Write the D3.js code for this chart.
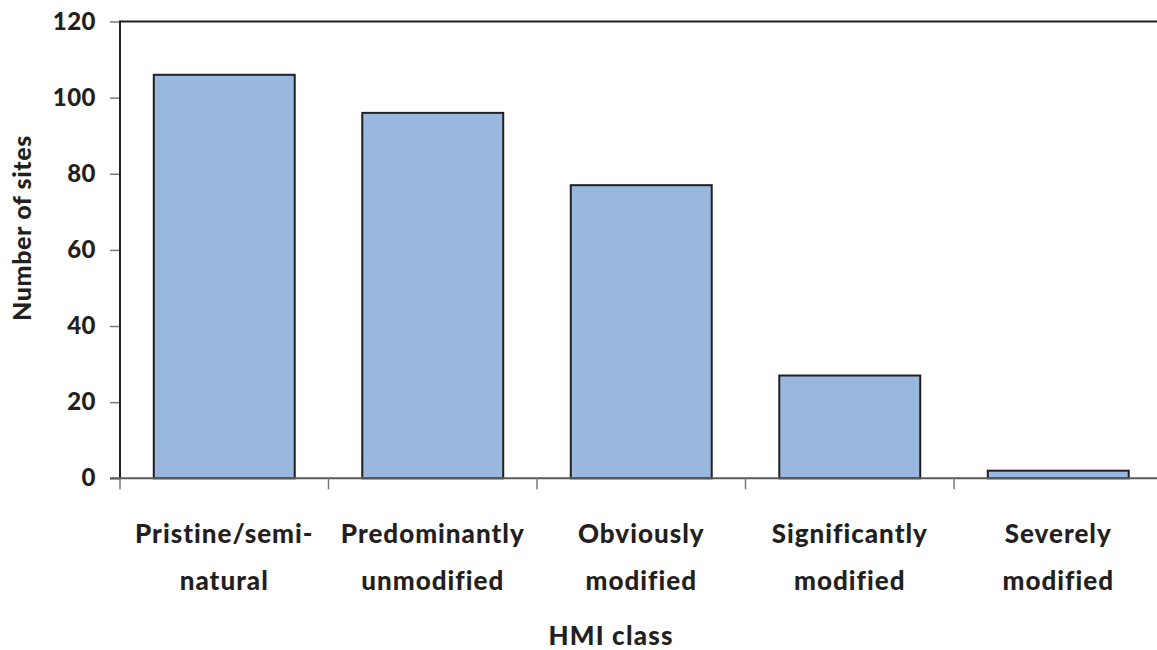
<!DOCTYPE html>
<html>
<head>
<meta charset="utf-8">
<script src="https://cdn.jsdelivr.net/npm/d3@7/dist/d3.min.js"></script>
<style>
  html, body { margin: 0; padding: 0; background: #fff; }
  svg { display: block; }
  text { font-family: Lato, "Open Sans", sans-serif; font-weight: 900; fill: #231f20; }
</style>
</head>
<body>
<svg id="chart" width="1157" height="650"></svg>
<script>
// HMI class categories (two-line labels) and site counts
const categories = ["Pristine/semi-natural", "Predominantly unmodified", "Obviously modified", "Significantly modified", "Severely modified"];
const labelLines = [
  ["Pristine/semi-", "natural"],
  ["Predominantly", "unmodified"],
  ["Obviously", "modified"],
  ["Significantly", "modified"],
  ["Severely", "modified"]
];
const siteCounts = [106, 96, 77, 27, 2];
const yTicks = [0, 20, 40, 60, 80, 100, 120];

const svg = d3.select("#chart");
const plotLeft = 120, plotRight = 1162.5, plotTop = 21.5, plotBottom = 478.3;

const x = d3.scaleBand().domain(categories).range([plotLeft, plotRight]).paddingInner(0.324).paddingOuter(0.162);
const y = d3.scaleLinear().domain([0, 120]).range([plotBottom, plotTop]);

// top frame line
svg.append("line")
  .attr("x1", plotLeft).attr("x2", plotRight).attr("y1", plotTop).attr("y2", plotTop)
  .attr("stroke", "#231f20").attr("stroke-width", 2);

// bars
svg.append("g").selectAll("rect")
  .data(siteCounts)
  .join("rect")
  .attr("x", (d, i) => x(categories[i]))
  .attr("y", d => y(d))
  .attr("width", x.bandwidth())
  .attr("height", d => plotBottom - y(d))
  .attr("fill", "#98b8e0")
  .attr("stroke", "#231f20")
  .attr("stroke-width", 2);

// y axis
const yAxis = d3.axisLeft(y).tickValues(yTicks).tickSize(10).tickPadding(14).tickFormat(d3.format("d"));
const gy = svg.append("g").attr("transform", `translate(${plotLeft},0)`).call(yAxis);
gy.select(".domain").remove();
gy.selectAll(".tick line").attr("stroke", "#7a7a7a").attr("stroke-width", 1.5);
gy.selectAll(".tick text").attr("font-size", 24).attr("fill", "#231f20")
  .attr("font-family", "Lato, 'Open Sans', sans-serif").attr("font-weight", 900)
  .attr("letter-spacing", 0.5);
svg.append("line")
  .attr("x1", plotLeft).attr("x2", plotLeft).attr("y1", plotTop - 1).attr("y2", plotBottom + 1)
  .attr("stroke", "#231f20").attr("stroke-width", 2);

// x axis baseline and category boundary ticks
svg.append("line")
  .attr("x1", plotLeft - 10).attr("x2", plotRight).attr("y1", plotBottom).attr("y2", plotBottom)
  .attr("stroke", "#5a5a5a").attr("stroke-width", 2);
const step = x.step();
const boundaries = d3.range(categories.length + 1).map(i => plotLeft + i * step);
svg.append("g").selectAll("line")
  .data(boundaries)
  .join("line")
  .attr("x1", d => d).attr("x2", d => d)
  .attr("y1", plotBottom).attr("y2", plotBottom + 11)
  .attr("stroke", "#7a7a7a").attr("stroke-width", 1.5);

// category labels
const lab = svg.append("g").selectAll("text")
  .data(categories)
  .join("text")
  .attr("text-anchor", "middle")
  .attr("font-size", 26)
  .attr("letter-spacing", 1)
  .attr("transform", d => `translate(${x(d) + x.bandwidth() / 2},0)`);
lab.each(function(d, i) {
  d3.select(this).selectAll("tspan")
    .data(labelLines[i])
    .join("tspan")
    .attr("x", 0)
    .attr("y", (t, j) => 543 + j * 47)
    .text(t => t);
});

// axis titles
svg.append("text")
  .attr("x", 611).attr("y", 645)
  .attr("text-anchor", "middle").attr("font-size", 26)
  .attr("letter-spacing", 1.2)
  .text("HMI class");
svg.append("text")
  .attr("transform", "translate(31,228) rotate(-90)")
  .attr("text-anchor", "middle").attr("font-size", 25)
  .attr("letter-spacing", 0.6)
  .text("Number of sites");
</script>
</body>
</html>
